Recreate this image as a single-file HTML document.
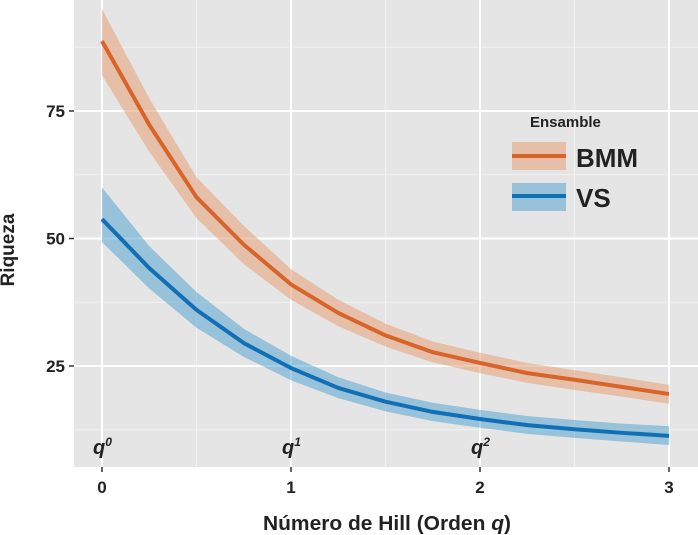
<!DOCTYPE html>
<html><head><meta charset="utf-8"><style>
html,body{margin:0;padding:0;background:#fff;}
svg{display:block;font-family:"Liberation Sans",Arial,sans-serif;}
</style></head><body>
<svg id="chart" width="698" height="535">
<rect x="74" y="0" width="624" height="467" fill="#e5e5e5"/>
<g id="grid"></g>
<g id="series"></g>
<g id="axes"></g>
<text x="14" y="250" transform="rotate(-90 14 250)" text-anchor="middle" font-size="19" font-weight="bold" fill="#222">Riqueza</text>
<text x="387" y="530" text-anchor="middle" font-size="20" font-weight="bold" fill="#222" textLength="248" lengthAdjust="spacingAndGlyphs">Número de Hill (Orden <tspan font-style="italic">q</tspan>)</text>
<g>
<text x="530" y="127" font-size="15" font-weight="bold" fill="#222">Ensamble</text>
<g>
<rect x="512" y="142" width="54" height="28" fill="#e6a57e" fill-opacity="0.6"/>
<line x1="512" y1="156" x2="566" y2="156" stroke="#d9642a" stroke-width="4"/>
<text x="576" y="167" font-size="26" font-weight="bold" fill="#222">BMM</text>
</g>
<g>
<rect x="512" y="183" width="54" height="28" fill="#4a9fd0" fill-opacity="0.5"/>
<line x1="512" y1="196" x2="566" y2="196" stroke="#1170b5" stroke-width="4"/>
<text x="576" y="207" font-size="26" font-weight="bold" fill="#222">VS</text>
</g>
</g>
</svg>
<script>
const orders = [0,0.25,0.5,0.75,1,1.25,1.5,1.75,2,2.25,2.5,2.75,3];
const bmmMean = [88.7,72.3,58.1,48.8,41,35.4,31,27.7,25.6,23.6,22.3,20.9,19.5];
const bmmLow  = [82,67,54,45,38,32.8,28.8,25.7,23.6,21.7,20.3,19,17.6];
const bmmHigh = [95,77.5,62,52.5,44,38,33.3,29.8,27.6,25.6,24.2,22.8,21.3];
const vsMean = [53.8,44.2,36,29.5,24.6,20.7,18,16,14.6,13.4,12.6,11.9,11.3];
const vsLow  = [49.3,40.2,32.5,26.8,22.2,18.7,16.1,14.2,12.9,11.7,10.9,10.2,9.5];
const vsHigh = [60,48.5,39.5,32.3,27,22.8,19.8,17.8,16.4,15.2,14.4,13.7,13.2];
const xTicks = [0,1,2,3];
const yTicks = [25,50,75];
const qLabels = ["0","1","2"];

const NS="http://www.w3.org/2000/svg";
const X=v=>102+v*189;
const Y=v=>366-(v-25)*5.1;
function mk(tag,attrs,parent){const e=document.createElementNS(NS,tag);for(const k in attrs)e.setAttribute(k,attrs[k]);parent.appendChild(e);return e;}
const grid=document.getElementById('grid'),series=document.getElementById('series'),axes=document.getElementById('axes');
[12.5,37.5,62.5,87.5].forEach(v=>{const l=mk('line',{x1:74,x2:698,y1:Y(v),y2:Y(v),stroke:'#f2f2f2','stroke-width':1},grid);

});
[0.5,1.5,2.5].forEach(v=>{const l=mk('line',{x1:X(v),x2:X(v),y1:0,y2:467,stroke:'#f2f2f2','stroke-width':1},grid);

});
yTicks.forEach(v=>{const l=mk('line',{x1:74,x2:698,y1:Y(v),y2:Y(v),stroke:'#fff','stroke-width':2},grid);


mk('line',{x1:69,x2:74,y1:Y(v),y2:Y(v),stroke:'#333','stroke-width':1.5},axes);
const t=mk('text',{x:65,y:Y(v)+6,'text-anchor':'end','font-size':17,'font-weight':'bold',fill:'#222'},axes);t.textContent=v;

});
xTicks.forEach(v=>{const l=mk('line',{x1:X(v),x2:X(v),y1:0,y2:467,stroke:'#fff','stroke-width':2},grid);


mk('line',{x1:X(v),x2:X(v),y1:467,y2:472,stroke:'#333','stroke-width':1.5},axes);
const t=mk('text',{x:X(v),y:493,'text-anchor':'middle','font-size':17,'font-weight':'bold',fill:'#222'},axes);t.textContent=v;

});
function band(lo,hi,fill,op,name){let d='M'+orders.map((o,i)=>X(o)+','+Y(hi[i])).join('L');
for(let i=orders.length-1;i>=0;i--)d+='L'+X(orders[i])+','+Y(lo[i]);d+='Z';
const p=mk('path',{d:d,fill:fill,'fill-opacity':op},series);

}
function line(m,stroke,name){const p=mk('path',{d:'M'+orders.map((o,i)=>X(o)+','+Y(m[i])).join('L'),fill:'none',stroke:stroke,'stroke-width':4,'stroke-linejoin':'round'},series);

}
band(bmmLow,bmmHigh,'#e6a57e',0.6,'bmm-confidence-band');
band(vsLow,vsHigh,'#4a9fd0',0.5,'vs-confidence-band');
line(bmmMean,'#d9642a','bmm-line');
line(vsMean,'#1170b5','vs-line');
qLabels.forEach((s,i)=>{const t=mk('text',{x:X(i)-9,y:454,'font-size':20,'font-weight':'bold','font-style':'italic',fill:'#222'},series);


t.textContent='q';const sp=mk('tspan',{dy:-8,'font-size':12},t);sp.textContent=s;});
</script>
</body></html>
